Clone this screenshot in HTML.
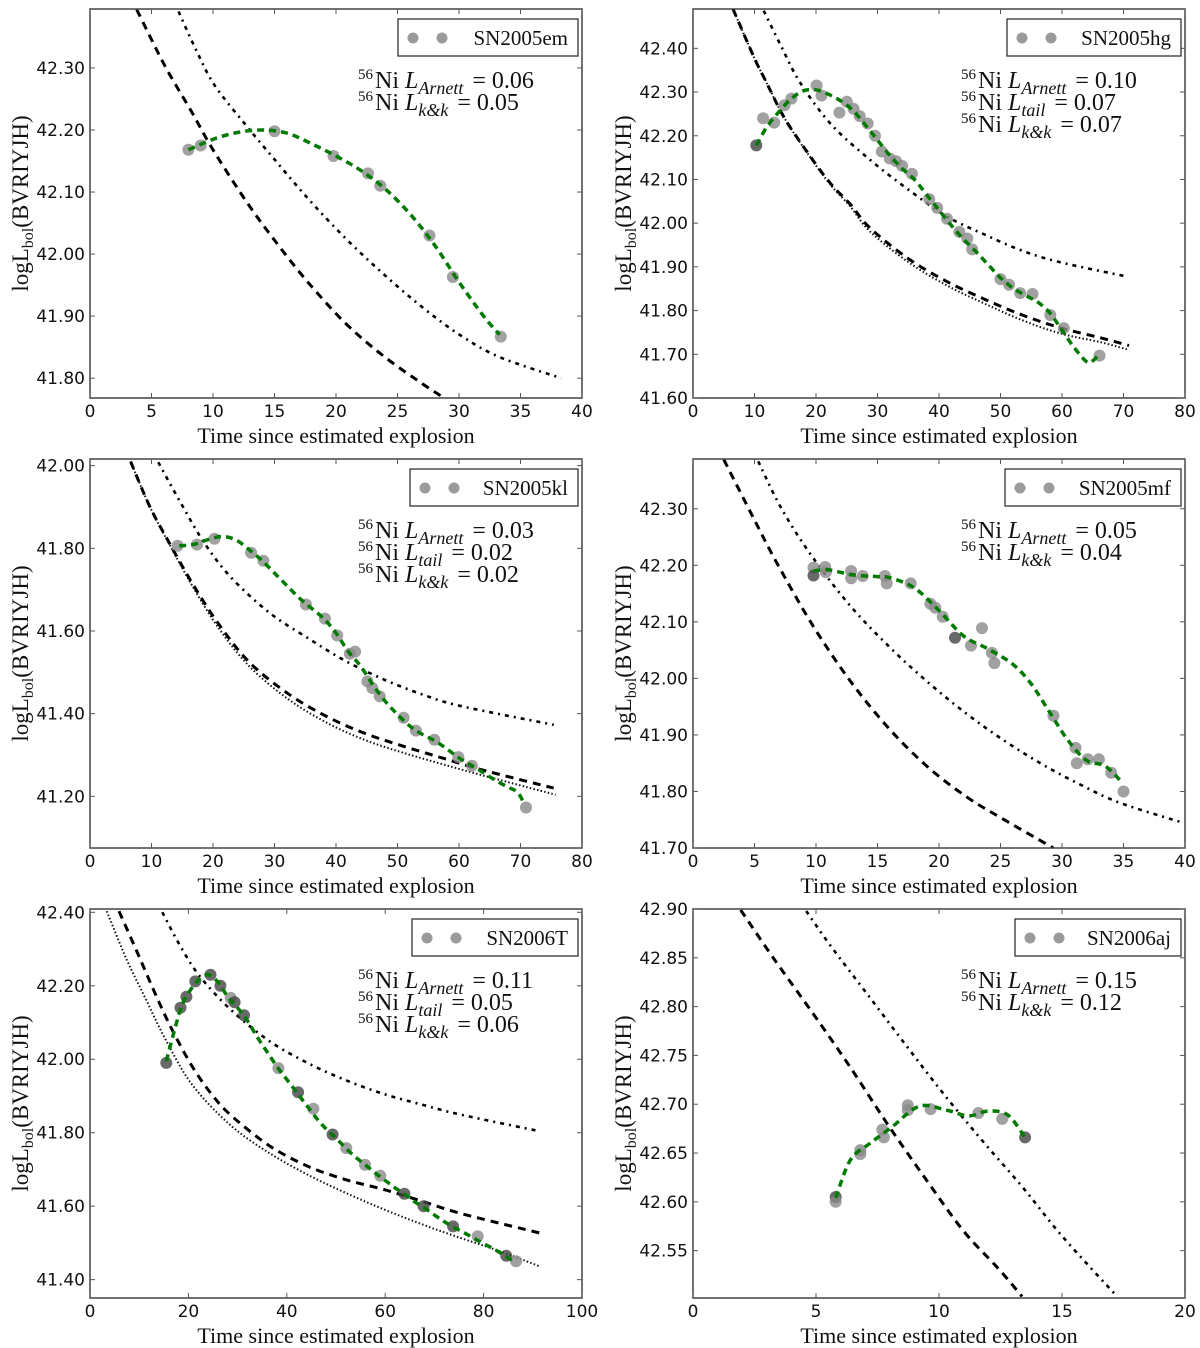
<!DOCTYPE html>
<html><head><meta charset="utf-8"><title>SN light curves</title>
<style>
html,body{margin:0;padding:0;background:#fff;}
svg{display:block;}
.tick{font-family:"DejaVu Sans","Liberation Sans",sans-serif;font-size:17px;fill:#111;}
.ser{font-family:"Liberation Serif",serif;fill:#111;}
</style></head>
<body>
<svg id="fig" xmlns="http://www.w3.org/2000/svg" width="1200" height="1348" viewBox="0 0 1200 1348"></svg>
<script>
// ---------- data: SN2005em ----------
const p1PtsT = [8,9,15,19.8,22.6,23.6,27.6,29.5,33.4];
const p1PtsL = [42.168,42.175,42.198,42.158,42.13,42.11,42.03,41.963,41.867];
const p1PtsDark = [0,0,0,0,0,0,0,0,0];
const p1Fit = [[8,42.168],[10,42.185],[12,42.196],[14,42.2],[16,42.195],[18,42.178],[20,42.158],[22,42.135],[24,42.105],[26,42.065],[28,42.015],[30,41.955],[32,41.9],[33.3,41.87]];
const p1Dashed = [[3.8,42.394],[6.1,42.303],[8.3,42.228],[10,42.168],[12.7,42.085],[14.9,42.025],[17.7,41.955],[20.8,41.888],[23.9,41.835],[27.1,41.79],[28.8,41.768]];
const p1DashDot = [[7.2,42.391],[8.6,42.33],[10.2,42.27],[13,42.2],[14.6,42.162],[17.7,42.09],[20.8,42.025],[23.9,41.967],[27.1,41.913],[30.2,41.868],[33.3,41.834],[38.3,41.8]];
const p1Dotted = [];
const p1Notes = [["Arnett","0.06"],["k&k","0.05"]];
const p1XTicks = [0,5,10,15,20,25,30,35,40];
const p1YTicks = [41.8,41.9,42.0,42.1,42.2,42.3];

// ---------- data: SN2005hg ----------
const p2PtsT = [10.3,11.4,13.2,14.9,16,20.1,20.9,23.8,25,26.1,27.1,28.4,29.6,30.7,32,33,34,35.6,38.4,39.7,41.3,43.3,44.6,45.4,50,51.4,53.2,55.2,58.1,60.3,66.1];
const p2PtsL = [42.178,42.24,42.23,42.27,42.285,42.315,42.292,42.253,42.278,42.262,42.245,42.228,42.2,42.164,42.148,42.142,42.131,42.113,42.055,42.035,42.01,41.98,41.965,41.94,41.872,41.859,41.84,41.838,41.79,41.76,41.697];
const p2PtsDark = [1,0,0,0,0,0,0,0,0,0,0,0,0,0,0,0,0,0,0,0,0,0,0,0,0,0,0,0,0,0,0];
const p2Fit = [[10.3,42.178],[12,42.22],[14,42.255],[16,42.285],[18,42.303],[20,42.305],[22,42.295],[24,42.28],[26,42.258],[28,42.225],[30,42.19],[32,42.155],[34,42.125],[36,42.1],[38,42.065],[40,42.03],[42,41.995],[44,41.963],[46,41.935],[48,41.905],[50,41.875],[52,41.852],[54,41.835],[56,41.82],[58,41.795],[60,41.755],[62,41.715],[64,41.683],[65,41.685],[66,41.7]];
const p2Dashed = [[6.5,42.49],[9.9,42.38],[11.8,42.326],[14.9,42.24],[19,42.154],[22.4,42.09],[25.6,42.043],[28.7,41.99],[34.9,41.92],[41.2,41.867],[47.4,41.826],[53.7,41.789],[59.9,41.76],[66.2,41.738],[70.9,41.72]];
const p2Dotted = [[6.5,42.49],[9.9,42.38],[11.8,42.326],[14.9,42.24],[19,42.152],[22.4,42.087],[25.6,42.038],[28.7,41.982],[34.9,41.912],[41.2,41.858],[47.4,41.816],[53.7,41.777],[59.9,41.747],[66.2,41.728],[70.9,41.71]];
const p2DashDot = [[11.5,42.486],[14.3,42.406],[17.4,42.322],[22.4,42.227],[28.7,42.146],[34.9,42.078],[41.2,42.016],[47.4,41.974],[53.7,41.936],[59.9,41.91],[70.2,41.879]];
const p2Notes = [["Arnett","0.10"],["tail","0.07"],["k&k","0.07"]];
const p2XTicks = [0,10,20,30,40,50,60,70,80];
const p2YTicks = [41.6,41.7,41.8,41.9,42.0,42.1,42.2,42.3,42.4];

// ---------- data: SN2005kl ----------
const p3PtsT = [14.25,17.4,20.25,26.2,28.2,35.1,38.2,40.2,42.25,43.1,45.1,45.9,47.1,51,53,56,59.9,62.1,70.9];
const p3PtsL = [41.806,41.809,41.823,41.789,41.77,41.664,41.63,41.589,41.545,41.55,41.478,41.462,41.442,41.39,41.359,41.337,41.295,41.274,41.173];
const p3PtsDark = [0,0,0,0,0,0,0,0,0,0,0,0,0,0,0,0,0,0,0];
const p3Fit = [[14.5,41.806],[17,41.81],[20,41.825],[22,41.828],[24,41.818],[26,41.795],[28,41.77],[30,41.74],[32,41.71],[34,41.68],[36,41.655],[38,41.63],[40,41.595],[42,41.55],[44,41.515],[46,41.47],[48,41.43],[50,41.398],[52,41.37],[54,41.35],[56,41.335],[58,41.315],[60,41.293],[62,41.275],[64,41.257],[66,41.238],[68,41.222],[69.5,41.21],[70.5,41.185]];
const p3Dashed = [[6.6,42.01],[9.75,41.9],[12.9,41.813],[16.6,41.716],[21,41.615],[26,41.523],[32.25,41.448],[38.5,41.393],[44.75,41.352],[51,41.321],[57.25,41.293],[63.5,41.265],[75.4,41.22]];
const p3Dotted = [[6.6,42.01],[9.75,41.9],[12.9,41.81],[16.6,41.71],[21,41.605],[26,41.513],[32.25,41.435],[38.5,41.378],[44.75,41.336],[51,41.305],[57.25,41.278],[63.5,41.252],[75.7,41.204]];
const p3DashDot = [[11.1,42.008],[14.75,41.91],[18.5,41.815],[22.9,41.73],[29.1,41.645],[35.4,41.583],[41.6,41.527],[47.9,41.482],[54.1,41.446],[60.4,41.418],[75.4,41.373]];
const p3Notes = [["Arnett","0.03"],["tail","0.02"],["k&k","0.02"]];
const p3XTicks = [0,10,20,30,40,50,60,70,80];
const p3YTicks = [41.2,41.4,41.6,41.8,42.0];

// ---------- data: SN2005mf ----------
const p4PtsT = [9.8,9.8,10.75,10.8,12.85,12.85,13.8,15.6,15.75,17.7,19.3,19.7,20.3,21.3,22.6,23.5,24.3,24.5,29.3,31.1,31.2,32.1,33,34,35];
const p4PtsL = [42.196,42.182,42.197,42.188,42.19,42.177,42.181,42.181,42.168,42.168,42.132,42.125,42.109,42.072,42.058,42.089,42.045,42.027,41.934,41.877,41.85,41.857,41.857,41.833,41.8];
const p4PtsDark = [0,1,0,0,0,0,0,0,0,0,0,0,0,1,0,0,0,0,0,0,0,0,0,0,0];
const p4Fit = [[9.8,42.19],[11,42.192],[13,42.183],[15,42.18],[16,42.178],[18,42.16],[20,42.12],[22,42.075],[24,42.052],[26,42.025],[27.5,41.99],[29,41.94],[30.5,41.89],[32,41.855],[33.5,41.845],[34.8,41.818]];
const p4Dashed = [[2.5,42.387],[5,42.28],[6.8,42.205],[9.7,42.095],[12.8,41.995],[15.9,41.912],[19,41.845],[22.2,41.791],[25.3,41.75],[29.3,41.7]];
const p4DashDot = [[5.3,42.384],[7.2,42.3],[9.7,42.215],[12.8,42.128],[15.9,42.057],[19,41.995],[22.2,41.938],[25.3,41.89],[28.4,41.848],[31.5,41.812],[34.7,41.78],[39.8,41.745]];
const p4Dotted = [];
const p4Notes = [["Arnett","0.05"],["k&k","0.04"]];
const p4XTicks = [0,5,10,15,20,25,30,35,40];
const p4YTicks = [41.7,41.8,41.9,42.0,42.1,42.2,42.3];

// ---------- data: SN2006T ----------
const p5PtsT = [15.5,18.4,19.6,21.4,24.5,26.5,28.6,29.4,31.3,38.3,42.3,45.4,49.3,52.1,55.9,59,63.9,67.8,73.8,78.8,84.6,86.6];
const p5PtsL = [41.99,42.14,42.17,42.212,42.23,42.2,42.167,42.155,42.12,41.976,41.91,41.865,41.795,41.758,41.713,41.683,41.634,41.6,41.545,41.518,41.465,41.45];
const p5PtsDark = [1,1,1,1,1,1,0,1,1,0,1,0,1,0,0,0,1,1,1,0,1,0];
const p5Fit = [[15.5,41.995],[17,42.07],[18.5,42.14],[20,42.18],[22,42.215],[24,42.23],[26,42.21],[28,42.17],[30,42.14],[32,42.105],[34,42.06],[36,42.02],[38,41.98],[40,41.945],[42,41.91],[44,41.875],[46,41.84],[48,41.81],[50,41.785],[52,41.758],[54,41.733],[56,41.712],[58,41.69],[60,41.67],[62,41.65],[64,41.632],[66,41.612],[68,41.595],[70,41.576],[72,41.558],[74,41.542],[76,41.528],[78,41.513],[80,41.498],[82,41.484],[84,41.468],[86,41.45]];
const p5Dashed = [[5.9,42.403],[9.8,42.285],[13.7,42.165],[16.9,42.075],[20.8,41.98],[24.7,41.905],[28.6,41.848],[36.4,41.765],[44.2,41.709],[52,41.672],[59.8,41.645],[67.6,41.613],[75.4,41.58],[91.4,41.527]];
const p5Dotted = [[3.4,42.403],[7.5,42.27],[11.4,42.162],[15.3,42.055],[20.8,41.93],[28.6,41.82],[36.4,41.745],[44.2,41.686],[52,41.636],[59.8,41.591],[67.6,41.55],[75.4,41.513],[83.2,41.478],[91.4,41.436]];
const p5DashDot = [[14.7,42.4],[18.4,42.307],[22.3,42.226],[28.6,42.135],[36.4,42.05],[44.2,41.99],[52,41.943],[59.8,41.905],[67.6,41.876],[75.4,41.849],[91.4,41.804]];
const p5Notes = [["Arnett","0.11"],["tail","0.05"],["k&k","0.06"]];
const p5XTicks = [0,20,40,60,80,100];
const p5YTicks = [41.4,41.6,41.8,42.0,42.2,42.4];

// ---------- data: SN2006aj ----------
const p6PtsT = [5.8,5.8,6.8,6.8,7.7,7.76,8.73,8.73,9.66,11.6,12.57,13.5];
const p6PtsL = [42.605,42.6,42.653,42.649,42.674,42.666,42.699,42.694,42.695,42.691,42.685,42.666];
const p6PtsDark = [1,0,0,0,0,0,0,0,0,0,0,1];
const p6Fit = [[5.8,42.604],[6.4,42.643],[7.2,42.66],[8.1,42.677],[9.2,42.698],[10.3,42.694],[11.2,42.688],[12,42.693],[12.8,42.689],[13.5,42.666]];
const p6Dashed = [[1.94,42.899],[3.26,42.85],[4.82,42.795],[6.39,42.738],[7.95,42.678],[9.5,42.622],[11,42.57],[12.4,42.532],[13.38,42.503]];
const p6DashDot = [[4.6,42.898],[5.6,42.862],[7.17,42.81],[8.73,42.758],[10.3,42.707],[11.85,42.66],[13.4,42.615],[15,42.565],[17.24,42.503]];
const p6Dotted = [];
const p6Notes = [["Arnett","0.15"],["k&k","0.12"]];
const p6XTicks = [0,5,10,15,20];
const p6YTicks = [42.55,42.6,42.65,42.7,42.75,42.8,42.85,42.9];

const panels = [
 {name:"SN2005em", left:90, top:9, w:492, h:389, xmin:0, xmax:40, ymin:41.768, ymax:42.395, pt:p1PtsT, pl:p1PtsL, pd:p1PtsDark, fit:p1Fit, dashed:p1Dashed, dotted:p1Dotted, dashdot:p1DashDot, notes:p1Notes, xt:p1XTicks, yt:p1YTicks, legX:398},
 {name:"SN2005hg", left:693, top:9, w:492, h:389, xmin:0, xmax:80, ymin:41.6, ymax:42.49, pt:p2PtsT, pl:p2PtsL, pd:p2PtsDark, fit:p2Fit, dashed:p2Dashed, dotted:p2Dotted, dashdot:p2DashDot, notes:p2Notes, xt:p2XTicks, yt:p2YTicks, legX:1007},
 {name:"SN2005kl", left:90, top:459, w:492, h:389, xmin:0, xmax:80, ymin:41.075, ymax:42.016, pt:p3PtsT, pl:p3PtsL, pd:p3PtsDark, fit:p3Fit, dashed:p3Dashed, dotted:p3Dotted, dashdot:p3DashDot, notes:p3Notes, xt:p3XTicks, yt:p3YTicks, legX:410},
 {name:"SN2005mf", left:693, top:459, w:492, h:389, xmin:0, xmax:40, ymin:41.7, ymax:42.388, pt:p4PtsT, pl:p4PtsL, pd:p4PtsDark, fit:p4Fit, dashed:p4Dashed, dotted:p4Dotted, dashdot:p4DashDot, notes:p4Notes, xt:p4XTicks, yt:p4YTicks, legX:1005},
 {name:"SN2006T", left:90, top:909, w:492, h:389, xmin:0, xmax:100, ymin:41.35, ymax:42.409, pt:p5PtsT, pl:p5PtsL, pd:p5PtsDark, fit:p5Fit, dashed:p5Dashed, dotted:p5Dotted, dashdot:p5DashDot, notes:p5Notes, xt:p5XTicks, yt:p5YTicks, legX:412},
 {name:"SN2006aj", left:693, top:909, w:492, h:389, xmin:0, xmax:20, ymin:42.5015, ymax:42.9, pt:p6PtsT, pl:p6PtsL, pd:p6PtsDark, fit:p6Fit, dashed:p6Dashed, dotted:p6Dotted, dashdot:p6DashDot, notes:p6Notes, xt:p6XTicks, yt:p6YTicks, legX:1015}
];

const NS = "http://www.w3.org/2000/svg";
const fig = document.getElementById('fig');
function mk(tag, attrs, parent){
  const e = document.createElementNS(NS, tag);
  for (const k in attrs) e.setAttribute(k, attrs[k]);
  (parent||fig).appendChild(e);
  return e;
}
function tsp(parent, txt, attrs){
  const t = document.createElementNS(NS,'tspan');
  for (const k in attrs) t.setAttribute(k, attrs[k]);
  t.textContent = txt; parent.appendChild(t); return t;
}
function smoothPath(P){
  if (P.length < 3) return P.map((q,i)=>(i?'L':'M')+q[0].toFixed(1)+','+q[1].toFixed(1)).join(' ');
  let d = 'M'+P[0][0].toFixed(1)+','+P[0][1].toFixed(1);
  for (let i = 0; i < P.length-1; i++){
    const p0 = P[Math.max(0,i-1)], p1 = P[i], p2 = P[i+1], p3 = P[Math.min(P.length-1,i+2)];
    const c1x = p1[0] + (p2[0]-p0[0])/6, c1y = p1[1] + (p2[1]-p0[1])/6;
    const c2x = p2[0] - (p3[0]-p1[0])/6, c2y = p2[1] - (p3[1]-p1[1])/6;
    d += ' C'+c1x.toFixed(1)+','+c1y.toFixed(1)+' '+c2x.toFixed(1)+','+c2y.toFixed(1)+' '+p2[0].toFixed(1)+','+p2[1].toFixed(1);
  }
  return d;
}

panels.forEach((p, idx) => {
  const g = mk('g', {});
  
  
  const xs = t => p.left + (t - p.xmin) / (p.xmax - p.xmin) * p.w;
  const ys = v => p.top + (p.ymax - v) / (p.ymax - p.ymin) * p.h;
  const clipId = 'clip' + idx;
  const cp = mk('clipPath', {id: clipId}, g);
  mk('rect', {x:p.left, y:p.top, width:p.w, height:p.h}, cp);
  const plot = mk('g', {'clip-path':'url(#'+clipId+')'}, g);
  
  

  function curve(arr, style, name){
    if (!arr.length) return;
    const d = smoothPath(arr.map(q => [xs(q[0]), ys(q[1])]));
    const e = mk('path', Object.assign({d:d, fill:'none', 'stroke-linejoin':'round'}, style), plot);
    
    
  }
  curve(p.dotted, {stroke:'#111', 'stroke-width':2, 'stroke-dasharray':'1.5,2.2'}, 'kk-model-curve');
  curve(p.dashed, {stroke:'#000', 'stroke-width':3, 'stroke-dasharray':'8,6'}, 'arnett-model-curve');
  curve(p.dashdot, {stroke:'#000', 'stroke-width':2.6, 'stroke-dasharray':'4,5,2,5'}, 'tail-model-curve');

  for (let i = 0; i < p.pt.length; i++){
    const c = mk('circle', {cx:xs(p.pt[i]).toFixed(1), cy:ys(p.pl[i]).toFixed(1), r:6, fill: p.pd[i] ? '#444' : '#8a8a8a', 'fill-opacity': 0.8}, plot);
    
    
  }
  curve(p.fit, {stroke:'#007a00', 'stroke-width':3.5, 'stroke-dasharray':'7,5'}, 'fit-curve');

  const fr = mk('rect', {x:p.left, y:p.top, width:p.w, height:p.h, fill:'none', stroke:'#444', 'stroke-width':1.5}, g);
  
  

  p.xt.forEach(t => {
    const x = xs(t);
    mk('line', {x1:x, x2:x, y1:p.top+p.h, y2:p.top+p.h-5, stroke:'#555', 'stroke-width':1}, g);
    mk('line', {x1:x, x2:x, y1:p.top, y2:p.top+5, stroke:'#555', 'stroke-width':1}, g);
    const tx = mk('text', {x:x, y:p.top+p.h+19, 'text-anchor':'middle', class:'tick'}, g);
    tx.textContent = String(t);
    
    
  });
  p.yt.forEach(v => {
    const y = ys(v);
    mk('line', {x1:p.left, x2:p.left+5, y1:y, y2:y, stroke:'#555', 'stroke-width':1}, g);
    mk('line', {x1:p.left+p.w, x2:p.left+p.w-5, y1:y, y2:y, stroke:'#555', 'stroke-width':1}, g);
    const tx = mk('text', {x:p.left-5, y:y+6, 'text-anchor':'end', class:'tick'}, g);
    tx.textContent = v.toFixed(2);
    
    
  });

  const xt = mk('text', {x:p.left+p.w/2, y:p.top+p.h+45, 'text-anchor':'middle', class:'ser', 'font-size':22}, g);
  xt.textContent = 'Time since estimated explosion';
  
  
  const yx = p.left - 62, yy = p.top + p.h/2;
  const yt = mk('text', {x:yx, y:yy, 'text-anchor':'middle', class:'ser', 'font-size':23, transform:'rotate(-90 '+yx+' '+yy+')'}, g);
  
  
  tsp(yt, 'logL', {});
  tsp(yt, 'bol', {dy:5, 'font-size':16});
  tsp(yt, '(BVRIYJH)', {dy:-5});

  const lg = mk('g', {}, g);
  
  
  const lx = p.legX, ly = p.top + 10, lr = p.left + p.w - 4;
  mk('rect', {x:lx, y:ly, width:lr-lx, height:37, fill:'#fff', stroke:'#333', 'stroke-width':1.3}, lg);
  mk('circle', {cx:lx+15, cy:ly+19, r:5.5, fill:'#8a8a8a', 'fill-opacity':0.85}, lg);
  mk('circle', {cx:lx+44, cy:ly+19, r:5.5, fill:'#8a8a8a', 'fill-opacity':0.85}, lg);
  const lt = mk('text', {x:lr-10, y:ly+26, 'text-anchor':'end', class:'ser', 'font-size':21}, lg);
  lt.textContent = p.name;
  
  

  const ax = p.left + 268;
  p.notes.forEach((n, i) => {
    const t = mk('text', {x:ax, y:p.top + 79 + i*22, class:'ser', 'font-size':24}, g);
    
    
    tsp(t, '56', {dy:-9, 'font-size':15});
    tsp(t, 'Ni ', {dy:9, dx:2});
    tsp(t, 'L', {'font-style':'italic'});
    tsp(t, n[0], {'font-style':'italic', 'font-size':18, dy:6});
    tsp(t, ' = ' + n[1], {dy:-6, dx:3});
  });
});
</script>
</body></html>
